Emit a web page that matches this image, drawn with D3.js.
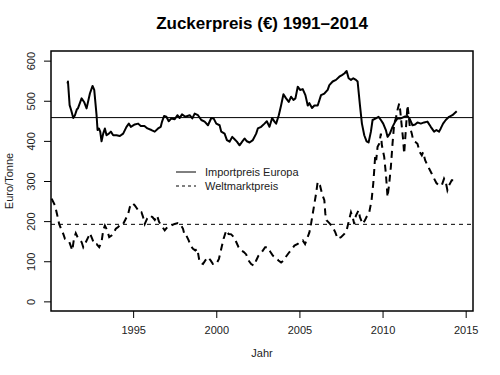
<!DOCTYPE html>
<html>
<head>
<meta charset="utf-8">
<script src="https://cdn.jsdelivr.net/npm/d3@7"></script>
<style>
  body { margin: 0; background: #fff; }
  svg text { font-family: "Liberation Sans", Arial, sans-serif; }
</style>
</head>
<body>
<div id="chart"></div>
<script>
"use strict";

// Importpreis Europa (Euro/Tonne)
var importYear = [1991.05, 1991.08, 1991.18, 1991.27, 1991.4, 1991.5, 1991.62, 1991.68, 1991.9, 1992.05,
  1992.2, 1992.4, 1992.56, 1992.66, 1992.8, 1992.86, 1992.94, 1993.02, 1993.1, 1993.2,
  1993.3, 1993.4, 1993.54, 1993.66, 1993.8, 1994.0, 1994.2, 1994.4, 1994.6, 1994.74,
  1994.86, 1995.1, 1995.3, 1995.46, 1995.68, 1995.86, 1996.1, 1996.3, 1996.5, 1996.66,
  1996.74, 1996.86, 1997.0, 1997.14, 1997.3, 1997.5, 1997.66, 1997.8, 1997.94, 1998.14,
  1998.4, 1998.56, 1998.7, 1998.9, 1999.1, 1999.3, 1999.5, 1999.7, 1999.84, 2000.0,
  2000.2, 2000.3, 2000.5, 2000.64, 2000.8, 2000.96, 2001.1, 2001.24, 2001.4, 2001.56,
  2001.7, 2001.84, 2002.0, 2002.2, 2002.4, 2002.5, 2002.7, 2002.9, 2003.04, 2003.2,
  2003.36, 2003.5, 2003.6, 2003.76, 2003.9, 2004.04, 2004.2, 2004.36, 2004.5, 2004.64,
  2004.76, 2004.9, 2005.04, 2005.2, 2005.36, 2005.5, 2005.6, 2005.76, 2005.9, 2006.1,
  2006.3, 2006.5, 2006.7, 2006.8, 2007.0, 2007.2, 2007.4, 2007.56, 2007.7, 2007.84,
  2007.96, 2008.1, 2008.24, 2008.4, 2008.5, 2008.64, 2008.76, 2008.9, 2009.04, 2009.16,
  2009.3, 2009.4, 2009.6, 2009.76, 2009.9, 2010.04, 2010.2, 2010.3, 2010.44, 2010.6,
  2010.76, 2010.9, 2011.1, 2011.3, 2011.5, 2011.64, 2011.8, 2011.96, 2012.1, 2012.3,
  2012.5, 2012.7, 2012.9, 2013.1, 2013.24, 2013.4, 2013.5, 2013.64, 2013.8, 2014.0,
  2014.2, 2014.46];
var importValue = [543, 548, 489, 477, 457, 464, 479, 481, 506, 497,
  481, 518, 537, 527, 464, 427, 431, 423, 399, 418,
  431, 414, 418, 423, 414, 414, 412, 418, 435, 443,
  435, 441, 443, 437, 437, 431, 427, 423, 431, 435,
  448, 462, 460, 449, 456, 454, 464, 457, 466, 460,
  464, 456, 468, 464, 452, 448, 439, 457, 456, 443,
  439, 423, 418, 402, 398, 410, 404, 398, 389, 398,
  406, 399, 396, 402, 418, 431, 435, 443, 449, 435,
  457, 448, 443, 464, 489, 516, 506, 497, 510, 502,
  506, 535, 527, 529, 514, 488, 494, 482, 488, 488,
  514, 518, 527, 539, 548, 552, 560, 564, 568, 574,
  556, 552, 556, 552, 548, 489, 443, 414, 399, 396,
  423, 452, 456, 460, 452, 443, 427, 410, 418, 435,
  448, 456, 456, 460, 462, 454, 439, 441, 446, 443,
  446, 448, 435, 423, 427, 423, 431, 443, 452, 460,
  464, 474];

// Weltmarktpreis (Euro/Tonne)
var worldYear = [1990.1, 1990.3, 1990.42, 1990.55, 1990.7, 1990.8, 1990.9, 1991.04, 1991.16, 1991.24,
  1991.34, 1991.44, 1991.55, 1991.66, 1991.78, 1991.9, 1992.0, 1992.16, 1992.3, 1992.4,
  1992.54, 1992.66, 1992.8, 1992.96, 1993.1, 1993.2, 1993.3, 1993.44, 1993.56, 1993.7,
  1993.84, 1993.96, 1994.1, 1994.24, 1994.4, 1994.56, 1994.7, 1994.8, 1994.96, 1995.1,
  1995.24, 1995.36, 1995.5, 1995.6, 1995.7, 1995.84, 1996.0, 1996.16, 1996.3, 1996.44,
  1996.56, 1996.7, 1996.9, 1997.1, 1997.3, 1997.5, 1997.7, 1997.84, 1998.0, 1998.1,
  1998.2, 1998.34, 1998.46, 1998.6, 1998.74, 1998.86, 1999.0, 1999.2, 1999.34, 1999.5,
  1999.66, 1999.8, 2000.0, 2000.16, 2000.3, 2000.44, 2000.6, 2000.74, 2000.9, 2001.06,
  2001.2, 2001.34, 2001.5, 2001.66, 2001.8, 2001.94, 2002.1, 2002.26, 2002.4, 2002.54,
  2002.74, 2002.94, 2003.1, 2003.26, 2003.4, 2003.6, 2003.74, 2003.9, 2004.06, 2004.2,
  2004.4, 2004.56, 2004.7, 2004.9, 2005.06, 2005.2, 2005.34, 2005.46, 2005.6, 2005.7,
  2005.8, 2005.9, 2006.0, 2006.1, 2006.24, 2006.36, 2006.5, 2006.56, 2006.63, 2006.8,
  2007.0, 2007.16, 2007.3, 2007.5, 2007.7, 2007.84, 2007.96, 2008.1, 2008.2, 2008.3,
  2008.4, 2008.56, 2008.64, 2008.8, 2008.94, 2009.08, 2009.2, 2009.34, 2009.44, 2009.5,
  2009.56, 2009.62, 2009.7, 2009.8, 2009.9, 2009.96, 2010.1, 2010.2, 2010.3, 2010.4,
  2010.5, 2010.6, 2010.7, 2010.8, 2010.9, 2011.0, 2011.06, 2011.14, 2011.24, 2011.3,
  2011.4, 2011.5, 2011.56, 2011.64, 2011.76, 2011.84, 2011.96, 2012.1, 2012.24, 2012.36,
  2012.44, 2012.56, 2012.7, 2012.8, 2012.96, 2013.1, 2013.24, 2013.4, 2013.56, 2013.7,
  2013.8, 2013.9, 2014.0, 2014.16, 2014.3, 2014.4];
var worldValue = [256, 239, 218, 193, 177, 168, 156, 152, 148, 139,
  127, 156, 170, 160, 152, 148, 135, 148, 160, 170,
  156, 143, 143, 135, 148, 177, 189, 177, 160, 164,
  172, 181, 185, 193, 193, 206, 218, 235, 245, 239,
  231, 222, 222, 210, 193, 206, 214, 210, 203, 214,
  198, 189, 177, 187, 189, 193, 195, 193, 181, 164,
  164, 152, 139, 131, 127, 131, 97, 93, 102, 110,
  102, 93, 93, 106, 131, 156, 177, 168, 167, 160,
  148, 135, 127, 123, 117, 102, 93, 89, 102, 114,
  123, 135, 135, 123, 114, 108, 102, 97, 102, 112,
  123, 131, 139, 143, 149, 152, 143, 156, 172, 193,
  218, 243, 268, 298, 289, 268, 252, 218, 202, 195,
  185, 172, 156, 160, 168, 177, 198, 222, 210, 193,
  214, 227, 210, 193, 202, 214, 222, 252, 293, 327,
  364, 352, 385, 393, 418, 389, 360, 318, 260, 293,
  335, 393, 443, 456, 477, 493, 477, 443, 402, 368,
  427, 489, 468, 435, 418, 402, 398, 393, 372, 364,
  372, 352, 339, 331, 318, 306, 295, 289, 289, 306,
  298, 277, 289, 302, 302, 298];

var xTicks = [1995, 2000, 2005, 2010, 2015];
var yTicks = [0, 100, 200, 300, 400, 500, 600];
var importMean = 458;
var worldMean = 192;
var legendLabels = ["Importpreis Europa", "Weltmarktpreis"];

var W = 500, H = 375;
var plot = {left: 51, right: 473, top: 51, bottom: 311};

var svg = d3.select("#chart").append("svg")
  .attr("width", W).attr("height", H);

var x = d3.scaleLinear().domain([1990.06, 2015.44]).range([plot.left, plot.right]);
var y = d3.scaleLinear().domain([-24, 624]).range([plot.bottom, plot.top]);

// title
svg.append("text")
  .attr("x", (plot.left + plot.right) / 2).attr("y", 29)
  .attr("text-anchor", "middle")
  .style("font-size", "17px").style("font-weight", "bold")
  .text("Zuckerpreis (€) 1991–2014");

// axes
var xAxis = svg.append("g")
  .attr("transform", `translate(0, ${plot.bottom})`)
  .call(d3.axisBottom(x).tickValues(xTicks).tickFormat(d3.format("d")).tickSize(7).tickPadding(8));
var yAxis = svg.append("g")
  .attr("transform", `translate(${plot.left}, 0)`)
  .call(d3.axisLeft(y).tickValues(yTicks).tickSize(7).tickPadding(5));
[xAxis, yAxis].forEach(function(a) {
  a.select(".domain").remove();
  a.selectAll("line").attr("stroke", "#000");
  a.selectAll("text").style("font-size", "11px").attr("fill", "#222")
    .style("font-family", "'Liberation Sans', Arial, sans-serif");
});
// y labels run vertically, like R's default las=0
yAxis.selectAll("text")
  .attr("text-anchor", "middle")
  .attr("transform", "rotate(-90)")
  .attr("x", 0)
  .attr("y", -16)
  .attr("dy", "0");

// axis titles
svg.append("text")
  .attr("x", (plot.left + plot.right) / 2).attr("y", 357)
  .attr("text-anchor", "middle").style("font-size", "11px").attr("fill", "#222")
  .text("Jahr");
svg.append("text")
  .attr("transform", `translate(13, ${(plot.top + plot.bottom) / 2}) rotate(-90)`)
  .attr("text-anchor", "middle").style("font-size", "11px").attr("fill", "#222")
  .text("Euro/Tonne");

// reference lines
svg.append("line")
  .attr("x1", plot.left).attr("x2", plot.right)
  .attr("y1", y(importMean)).attr("y2", y(importMean))
  .attr("stroke", "#000").attr("stroke-width", 1);
svg.append("line")
  .attr("x1", plot.left).attr("x2", plot.right)
  .attr("y1", y(worldMean)).attr("y2", y(worldMean))
  .attr("stroke", "#000").attr("stroke-width", 1).attr("stroke-dasharray", "4,4");

// data lines
var line = d3.line().x(d => x(d[0])).y(d => y(d[1]));
var importData = importYear.map((d, i) => [d, importValue[i]]);
var worldData = worldYear.map((d, i) => [d, worldValue[i]]);

svg.append("path").datum(worldData)
  .attr("d", line).attr("fill", "none")
  .attr("stroke", "#000").attr("stroke-width", 2)
  .attr("stroke-dasharray", "7,5");
svg.append("path").datum(importData)
  .attr("d", line).attr("fill", "none")
  .attr("stroke", "#000").attr("stroke-width", 2)
  .attr("stroke-linejoin", "round");

// legend
var legend = svg.append("g");
legendLabels.forEach(function(label, i) {
  var ly = 172 + i * 14;
  legend.append("line")
    .attr("x1", 176).attr("x2", 196).attr("y1", ly).attr("y2", ly)
    .attr("stroke", "#000").attr("stroke-width", 1)
    .attr("stroke-dasharray", i == 1 ? "3,3" : null);
  legend.append("text")
    .attr("x", 205).attr("y", ly + 4)
    .style("font-size", "11px").attr("fill", "#222")
    .text(label);
});

// frame
svg.append("rect")
  .attr("x", plot.left).attr("y", plot.top)
  .attr("width", plot.right - plot.left).attr("height", plot.bottom - plot.top)
  .attr("fill", "none").attr("stroke", "#000").attr("stroke-width", 1.5);
</script>
</body>
</html>
